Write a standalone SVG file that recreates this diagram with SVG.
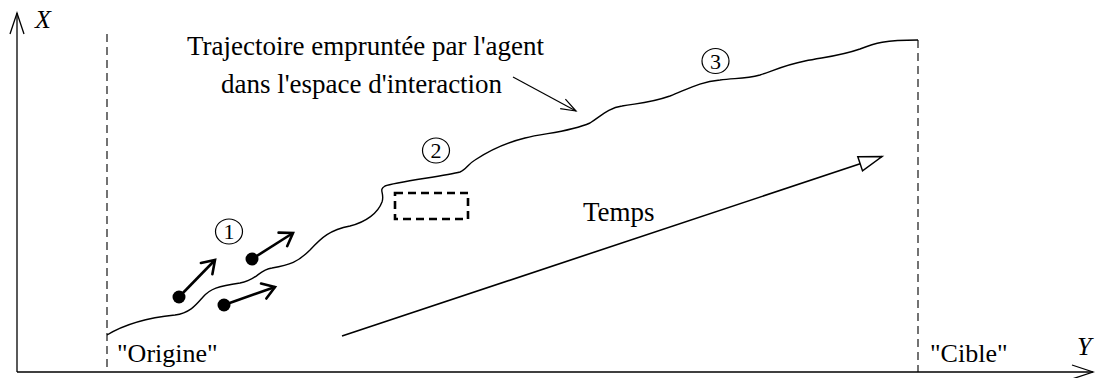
<svg xmlns="http://www.w3.org/2000/svg" width="1095" height="378" viewBox="0 0 1095 378">
  <style>
    .t { font-family: 'Liberation Serif', 'DejaVu Serif', serif; font-size: 26px; fill: #000; }
    .big { font-size: 27px; }
    .it { font-style: italic; }
    .num { font-family: 'Liberation Serif', 'DejaVu Serif', serif; font-size: 22px; fill: #000; text-anchor: middle; }
    .ring { fill: none; stroke: #000; stroke-width: 1.2; }
    .axis { fill: none; stroke: #000; stroke-width: 1.3; }
    .guide { fill: none; stroke: #000; stroke-width: 1.1; stroke-dasharray: 8 5; }
    .traj { fill: none; stroke: #000; stroke-width: 1.4; }
    .agent { fill: none; stroke: #000; stroke-width: 2.6; }
    .dot { fill: #000; }
    .box { fill: none; stroke: #000; stroke-width: 2.6; stroke-dasharray: 8 5; }
    .thin { fill: none; stroke: #000; stroke-width: 1.2; }
    .time { fill: none; stroke: #000; stroke-width: 1.6; }
  </style>
  <defs>
    <marker id="axHead" markerUnits="userSpaceOnUse" viewBox="-25 -10 30 20" markerWidth="30" markerHeight="20" refX="0" refY="0" orient="auto" overflow="visible">
      <path d="M-21,-7 L0,0 L-21,7" fill="none" stroke="#000" stroke-width="1.3"/>
    </marker>
    <marker id="agHead" markerUnits="userSpaceOnUse" viewBox="-16 -10 20 20" markerWidth="20" markerHeight="20" refX="0" refY="0" orient="auto" overflow="visible">
      <path d="M-12,-8 L0,0 L-12,8" fill="none" stroke="#000" stroke-width="2.6" stroke-linecap="round"/>
    </marker>
    <marker id="ptHead" markerUnits="userSpaceOnUse" viewBox="-18 -8 20 16" markerWidth="20" markerHeight="16" refX="0" refY="0" orient="auto" overflow="visible">
      <path d="M-15,-5.5 L0,0 L-15,5.5" fill="none" stroke="#000" stroke-width="1.2"/>
    </marker>
    <marker id="triHead" markerUnits="userSpaceOnUse" viewBox="-26 -10 30 20" markerWidth="30" markerHeight="20" refX="0" refY="0" orient="auto" overflow="visible">
      <path d="M-23,-7.5 L0,0 L-23,7.5 Z" fill="#fff" stroke="#000" stroke-width="1.5" stroke-linejoin="miter"/>
    </marker>
  </defs>

  <g id="axes">
    <line class="axis" x1="17" y1="372" x2="17" y2="13" marker-end="url(#axHead)"/>
    <line class="axis" x1="17" y1="372" x2="1093" y2="372" marker-end="url(#axHead)"/>
    <text class="t it" x="35" y="28">X</text>
    <text class="t it" x="1077" y="355">Y</text>
  </g>

  <g id="guides">
    <line class="guide" x1="107" y1="34" x2="107" y2="372"/>
    <line class="guide" x1="918" y1="40" x2="918" y2="372"/>
  </g>

  <g id="connectors">
    <path id="trajectory" class="traj" d="M107,335 C125,324 145,318 175,315 C190,313 196,305 203,297 C210,289 218,286 240,283 C258,280 258,270 272,268 C290,265 298,262 310,250 C322,237 330,230 350,226 C366,222 378,213 382,202 C385,193 378,190 385,186 C395,182 445,176 460,172 C466,170 468,164 475,160 C490,150 505,143 525,138 C545,133 570,132 590,123 C600,117 608,108 622,106 C640,103 650,103 670,96 C690,88 700,82 720,80 C735,78 745,79 760,75 C775,70 785,65 805,61 C825,57 840,56 860,49 C875,43 885,40 918,40"/>
    <line id="pointer" class="thin" x1="513" y1="77" x2="576" y2="111" marker-end="url(#ptHead)"/>
    <line id="time-arrow" class="time" x1="342" y1="336" x2="882" y2="156.5" marker-end="url(#triHead)"/>
    <line class="agent" x1="179" y1="297" x2="215" y2="260" marker-end="url(#agHead)"/>
    <line class="agent" x1="252" y1="259" x2="293" y2="233" marker-end="url(#agHead)"/>
    <line class="agent" x1="224" y1="305" x2="275" y2="287" marker-end="url(#agHead)"/>
  </g>

  <g id="agent-1"><circle class="dot" cx="179" cy="297" r="6.5"/></g>
  <g id="agent-2"><circle class="dot" cx="252" cy="259" r="6.5"/></g>
  <g id="agent-3"><circle class="dot" cx="224" cy="305" r="6.5"/></g>

  <g id="obstacle"><rect class="box" x="395" y="193" width="73" height="26"/></g>

  <g id="step-1">
    <ellipse class="ring" cx="229" cy="231.5" rx="13.5" ry="12.5"/>
    <text class="num" x="229" y="239">1</text>
  </g>
  <g id="step-2">
    <ellipse class="ring" cx="436" cy="150.5" rx="13.5" ry="12.5"/>
    <text class="num" x="436" y="158">2</text>
  </g>
  <g id="step-3">
    <ellipse class="ring" cx="715.5" cy="61" rx="13.5" ry="12.5"/>
    <text class="num" x="715.5" y="68.5">3</text>
  </g>

  <g id="label-trajectory">
    <text class="t big" x="187" y="55">Trajectoire empruntée par l'agent</text>
    <text class="t big" x="221" y="93">dans l'espace d'interaction</text>
  </g>
  <g id="label-temps"><text class="t big" x="583" y="221">Temps</text></g>
  <g id="label-origine"><text class="t" x="117" y="362">"Origine"</text></g>
  <g id="label-cible"><text class="t" x="930" y="362">"Cible"</text></g>
</svg>
